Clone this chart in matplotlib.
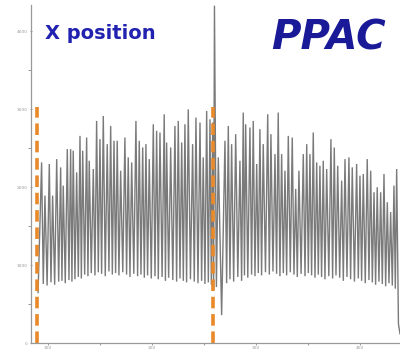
import matplotlib
matplotlib.use('Agg')
import matplotlib.pyplot as plt
import numpy as np

# Peak channels and peak counts of the wire-plane x-position spectrum
peak_ch = [93.9, 97.1, 101.3, 104.5, 108.4, 112.2, 114.7, 118.6, 121.8, 124.3,
           127.6, 130.8, 133.4, 137.2, 139.7, 143.6, 146.8, 150.0, 153.2, 157.0,
           160.3, 163.5, 166.6, 169.9, 174.0, 177.2, 180.5, 184.6, 187.8, 191.1,
           194.2, 197.4, 201.3, 204.5, 207.7, 211.8, 214.1, 218.0, 222.1, 225.3,
           228.6, 231.7, 234.9, 239.1, 242.3, 246.2, 249.3, 252.6, 255.8, 258.4,
           260.1, 263.8,
           270.2, 273.4, 276.6, 280.5, 284.6, 287.8, 290.1, 294.2, 297.4, 300.7,
           303.8, 307.0, 311.3, 314.4, 318.3, 321.4, 324.7, 327.9, 331.1, 334.9,
           338.2, 341.3, 345.5, 348.8, 351.9, 355.1, 358.4, 361.5, 364.7, 368.0,
           372.1, 375.3, 378.6, 382.4, 385.6, 389.4, 392.6, 396.8, 400.0, 403.2,
           407.0, 410.3, 413.5, 416.6, 419.9, 423.1, 426.3, 429.5, 432.7, 435.3]

peak_counts = [2320, 1894, 2299, 1894, 2362, 2256, 2022, 2490, 2490, 2470,
               2192, 2660, 2469, 2639, 2341, 2235, 2852, 2618, 2916, 2554,
               2788, 2597, 2597, 2213, 2639, 2384, 2320, 2852, 2597, 2511,
               2554, 2362, 2809, 2724, 2703, 2937, 2575, 2511, 2788, 2852,
               2575, 2809, 3001, 2554, 2895, 2831, 2384, 2980, 2873, 2831,
               4330, 2384,
               2597, 2788, 2554, 2682, 2341, 2959, 2809, 2767, 2852, 2299,
               2746, 2554, 2937, 2682, 2426, 2959, 2426, 2213, 2660, 2639,
               1979, 2213, 2426, 2554, 2426, 2703, 2320, 2277, 2341, 2235,
               2618, 2511, 2277, 2086, 2362, 2384, 2256, 2299, 2149, 2171,
               2362, 2213, 1937, 2001, 1937, 2171, 1809, 1682, 2022, 2235]

# Minimum counts between neighbouring peaks
valley_counts = [760, 740, 780, 750, 790, 800, 770, 810, 790, 820,
                 850, 830, 880, 860, 900, 870, 910, 890, 860, 920,
                 880, 900, 870, 910, 880, 850, 890, 860, 880, 840,
                 870, 830, 860, 820, 850, 800, 840, 810, 790, 830,
                 800, 780, 820, 790, 770, 800, 760, 780, 750,
                 700, 720, 360,
                 770, 820, 790, 850, 800, 870, 840, 880, 860, 900,
                 870, 910, 880, 920, 890, 860, 900, 870, 910, 880,
                 850, 890, 860, 900, 870, 840, 880, 850, 820, 860,
                 830, 870, 840, 800, 850, 820, 790, 830, 800, 770,
                 810, 780, 750, 790, 760, 730, 770, 740, 700]

edge_ch = [90.5, 437.0, 438.5]
edge_counts = [650, 250, 120]

# Software gate limits
gate_ch = [89.4, 258.7]
gate_top = 3030

x_ticks = [100, 200, 300, 400]
x_minor = [150, 250, 350]
y_ticks = [0, 1000, 2000, 3000, 4000]
y_minor = [500, 1500, 2500, 3500]


def build_trace():
    xs = [edge_ch[0]]
    ys = [edge_counts[0]]
    for i, (c, n) in enumerate(zip(peak_ch, peak_counts)):
        xs.append(c)
        ys.append(n)
        if i < len(valley_counts):
            xs.append((c + peak_ch[i + 1]) / 2)
            ys.append(valley_counts[i])
    xs += edge_ch[1:]
    ys += edge_counts[1:]
    return np.array(xs), np.array(ys)


fig = plt.figure(figsize=(4.0, 3.52), dpi=100)
ax = fig.add_axes([0.0775, 0.025, 0.9225, 0.961])

xs, ys = build_trace()
ax.plot(xs, ys, color='#7a7a7a', lw=1.0, solid_joinstyle='miter')

for g in gate_ch:
    ax.plot([g, g], [0, gate_top], color='#e8892a', lw=2.6,
            dashes=(3.2, 1.6))

ax.set_xlim(83.7, 438.5)
ax.set_ylim(0, 4340)

ax.set_xticks(x_ticks)
ax.set_xticks(x_minor, minor=True)
ax.set_yticks(y_ticks)
ax.set_yticks(y_minor, minor=True)
ax.tick_params(which='both', colors='#999999', labelcolor='#9a9a9a',
               labelsize=3.2, length=2.0, width=0.7, pad=1.2)
ax.tick_params(axis='x', which='both', length=1.5, pad=0.3)
ax.tick_params(axis='y', direction='inout')

for side in ['top', 'right']:
    ax.spines[side].set_visible(False)
for side in ['left', 'bottom']:
    ax.spines[side].set_color('#999999')
    ax.spines[side].set_linewidth(0.9)

fig.text(0.112, 0.905, 'X position', color='#2222b0', fontsize=14,
         fontweight='bold', va='center', ha='left')
fig.text(0.965, 0.89, 'PPAC', color='#1a1a98', fontsize=29,
         fontweight='bold', fontstyle='italic', va='center', ha='right')

fig.savefig('out.png', dpi=100)
